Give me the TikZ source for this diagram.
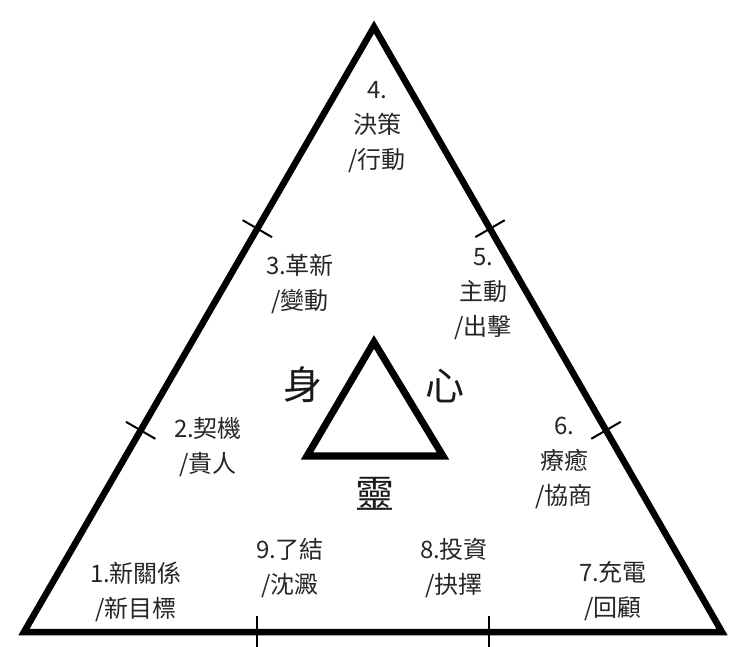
\documentclass[tikz,border=0pt]{standalone}
\usepackage{fontspec}
\newfontfamily\cjk{Noto Sans CJK TC}
\usetikzlibrary{calc}
\tikzset{
  edge/.style={line width=6.5pt, line join=miter},
  inner/.style={line width=7pt, line join=miter},
  tick/.style={line width=2pt},
  lbl/.style={align=center, inner sep=0pt, text=black!85, font=\cjk\fontsize{24}{35}\selectfont},
  big/.style={inner sep=0pt, text=black!90, font=\cjk\fontsize{39}{39}\selectfont}
}
\begin{document}
\begin{tikzpicture}[x=1pt,y=-1pt]
\fill[white] (0,0) rectangle (740,647);
\useasboundingbox (0,0) rectangle (740,647);
% outer triangle
\coordinate (A) at (374,27);
\coordinate (BL) at (24,632);
\coordinate (BR) at (722,632);
\draw[edge] (A) -- (BL) -- (BR) -- cycle;
% ticks on edges
\coordinate (L1) at ($(A)!1/3!(BL)$);
\coordinate (L2) at ($(A)!2/3!(BL)$);
\coordinate (R1) at ($(A)!1/3!(BR)$);
\coordinate (R2) at ($(A)!2/3!(BR)$);
\foreach \p/\q in {L1/BL, L2/BL, R1/BR, R2/BR}{
  \draw[tick] ($(\p)!17pt!90:(\q)$) -- ($(\p)!17pt!-90:(\q)$);
}
\coordinate (B1) at ($(BL)!1/3!(BR)$);
\coordinate (B2) at ($(BL)!2/3!(BR)$);
\coordinate (B1t) at ($(B1)+(0,-16)$);
\coordinate (B1b) at ($(B1)+(0,16)$);
\coordinate (B2t) at ($(B2)+(0,-16)$);
\coordinate (B2b) at ($(B2)+(0,16)$);
\draw[tick] (B1t) -- (B1b);
\draw[tick] (B2t) -- (B2b);
% inner triangle
\coordinate (IA) at (374,342);
\coordinate (IL) at (307,456);
\coordinate (IR) at (443,456);
\draw[inner] (IA) -- (IL) -- (IR) -- cycle;
% big labels
\node[big] (shen) at (303,385) {身};
\node[big] (xin) at (445,386) {心};
\node[big] (ling) at (375,494) {靈};
% labels
\node[lbl] (n4) at (377,127) {4.\\決策\\/行動};
\node[lbl] (n3) at (300,284) {3.革新\\/變動};
\node[lbl] (n5) at (483,294) {5.\\主動\\/出擊};
\node[lbl] (n2) at (208,447) {2.契機\\/貴人};
\node[lbl] (n6) at (564,463) {6.\\療癒\\/協商};
\node[lbl] (n1) at (136,592) {1.新關係\\/新目標};
\node[lbl] (n9) at (290,568) {9.了結\\/沈澱};
\node[lbl] (n8) at (454,568) {8.投資\\/抉擇};
\node[lbl] (n7) at (613,591) {7.充電\\/回顧};
\end{tikzpicture}
\end{document}
